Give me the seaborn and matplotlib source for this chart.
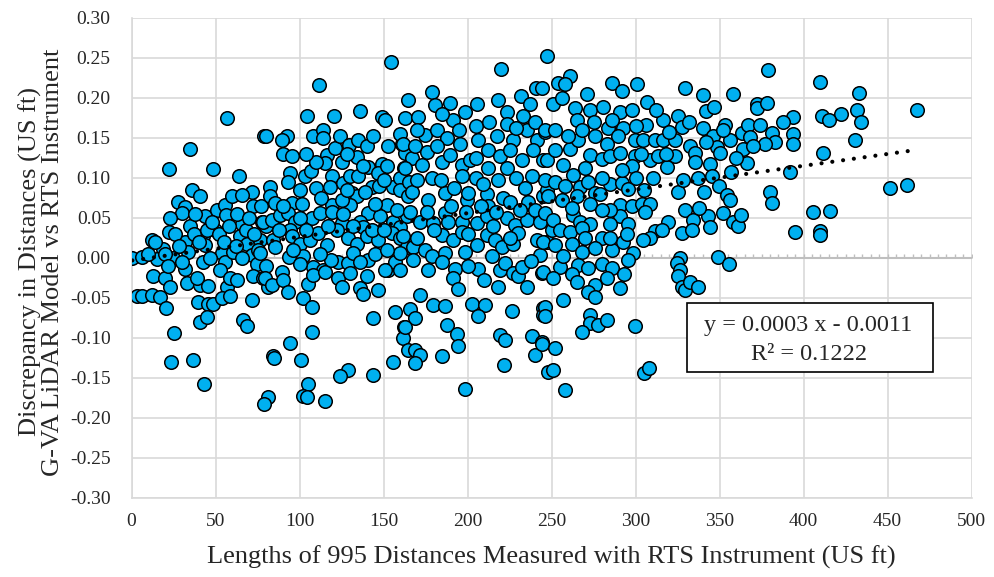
import numpy as np
import pandas as pd
import matplotlib
matplotlib.use("Agg")
import matplotlib.pyplot as plt
import seaborn as sns
from matplotlib.ticker import FormatStrFormatter
from matplotlib.patches import Rectangle

# (length in US ft, discrepancy in US ft), grouped by length band
pts_0_80 = [
    (0.5, 0.000), (57.0, 0.175), (78.9, 0.152), (34.8, 0.136), (22.3, 0.111), (48.3, 0.111),
    (64.0, 0.102), (71.5, 0.083), (35.8, 0.085), (40.8, 0.078), (27.9, 0.070), (31.8, 0.064),
    (29.9, 0.056), (22.9, 0.050), (43.7, 0.052), (50.7, 0.060), (55.7, 0.066), (59.6, 0.077),
    (65.6, 0.079), (72.1, 0.065), (56.2, 0.054), (65.6, 0.043), (77.5, 0.045), (22.5, 0.032),
    (12.0, 0.023), (18.5, 0.011), (6.0, 0.001), (15.4, -0.001), (24.9, 0.000), (31.8, 0.020),
    (33.8, 0.008), (42.8, 0.027), (43.7, 0.016), (42.8, -0.005), (49.7, 0.035), (53.7, 0.006),
    (55.7, -0.005), (60.6, 0.008), (64.6, 0.027), (68.5, 0.018), (71.5, 0.004), (74.5, -0.007),
    (76.5, 0.023), (31.8, -0.014), (13.0, -0.023), (19.9, -0.025), (22.9, -0.036), (32.8, -0.031),
    (40.8, -0.034), (38.8, -0.025), (45.7, -0.035), (52.7, -0.015), (56.6, -0.036), (58.6, -0.025),
    (62.6, -0.028), (72.5, -0.023), (71.5, -0.053), (78.5, -0.025), (81.4, -0.036), (3.1, -0.048),
    (6.0, -0.048), (12.0, -0.046), (17.0, -0.049), (20.5, -0.063), (39.8, -0.055), (45.7, -0.057),
    (48.7, -0.058), (53.7, -0.050), (58.6, -0.048), (40.8, -0.080), (45.1, -0.074), (66.6, -0.078),
    (68.5, -0.085), (25.3, -0.094), (23.5, -0.130), (36.8, -0.128), (43.1, -0.158), (81.0, -0.174),
    (79.0, -0.182), (84.5, -0.123),
    (10.0, 0.005), (14.0, 0.020), (20.0, 0.005), (22.0, -0.010), (26.0, 0.030), (28.0, 0.015),
    (30.0, -0.005), (35.0, 0.040), (37.0, 0.030), (38.0, 0.055), (40.0, 0.020), (45.0, 0.035),
    (47.0, 0.000), (48.0, 0.045), (52.0, 0.030), (55.0, 0.020), (58.0, 0.040), (62.0, 0.015),
    (63.0, 0.055), (66.0, 0.000), (68.0, 0.035), (70.0, 0.050), (73.0, 0.030), (75.0, 0.010),
    (77.0, 0.065), (80.0, 0.040), (80.0, -0.010),
]

pts_80_160 = [
    (154.3, 0.245), (111.8, 0.216), (104.3, 0.178), (120.5, 0.177), (136.0, 0.184), (148.9, 0.176),
    (150.9, 0.172), (164.8, 0.197), (162.8, 0.175), (80.1, 0.152), (92.4, 0.152), (89.4, 0.147),
    (90.0, 0.130), (95.3, 0.127), (108.2, 0.152), (114.2, 0.160), (114.2, 0.150), (116.2, 0.129),
    (115.2, 0.119), (121.1, 0.138), (124.1, 0.152), (125.1, 0.120), (129.7, 0.141), (135.0, 0.147),
    (140.0, 0.140), (144.0, 0.152), (134.0, 0.126), (141.0, 0.114), (148.9, 0.118), (152.9, 0.140),
    (160.8, 0.143), (162.8, 0.131), (162.2, 0.112), (94.4, 0.106), (93.4, 0.095), (103.3, 0.102),
    (106.7, 0.109), (119.2, 0.102), (118.2, 0.089), (126.1, 0.094), (130.1, 0.102), (135.0, 0.102),
    (143.0, 0.089), (146.9, 0.106), (147.5, 0.090), (155.9, 0.089), (159.8, 0.100), (82.5, 0.089),
    (82.5, 0.077), (85.4, 0.069), (95.3, 0.069), (101.3, 0.067), (119.2, 0.066), (131.1, 0.081),
    (134.0, 0.077), (139.0, 0.083), (130.1, 0.066), (141.0, 0.056), (151.9, 0.066), (159.8, 0.085),
    (164.8, 0.077), (78.1, 0.045), (83.4, 0.048), (88.4, 0.054), (93.4, 0.056), (97.3, 0.045),
    (107.3, 0.050), (112.2, 0.056), (119.2, 0.058), (125.1, 0.044), (136.0, 0.045), (138.0, 0.039),
    (147.9, 0.052), (155.9, 0.045), (159.8, 0.039), (163.8, 0.052), (84.4, 0.023), (85.4, 0.014),
    (94.4, 0.035), (95.3, 0.027), (100.3, 0.018), (106.3, 0.022), (111.2, 0.031), (116.2, 0.016),
    (122.1, 0.035), (129.1, 0.025), (134.0, 0.018), (140.0, 0.027), (146.9, 0.023), (154.9, 0.031),
    (159.8, 0.025), (163.8, 0.014), (76.5, 0.006), (94.0, 0.001), (102.3, 0.002), (108.2, -0.011),
    (114.2, -0.015), (123.1, -0.005), (129.1, -0.006), (132.1, 0.006), (141.0, -0.002), (152.9, -0.015),
    (156.9, -0.005), (159.8, 0.006), (79.5, -0.025), (83.4, -0.034), (89.4, -0.017), (90.4, -0.028),
    (93.4, -0.043), (105.3, -0.032), (108.2, -0.021), (115.2, -0.017), (123.1, -0.025), (125.1, -0.036),
    (130.1, -0.019), (136.0, -0.038), (138.0, -0.045), (140.0, -0.023), (146.9, -0.040), (150.9, -0.015),
    (102.3, -0.050), (107.3, -0.061), (143.9, -0.075), (156.9, -0.067), (162.2, -0.086), (161.8, -0.100),
    (107.3, -0.092), (94.4, -0.106), (84.8, -0.125), (100.7, -0.128), (155.9, -0.130), (164.8, -0.115),
    (129.1, -0.140), (124.1, -0.148), (143.9, -0.146), (105.3, -0.157), (101.9, -0.172), (104.3, -0.174),
    (115.2, -0.179),
    (100.0, 0.085), (110.0, 0.088), (113.0, 0.075), (125.0, 0.072), (128.0, 0.085), (145.0, 0.068),
    (150.0, 0.098), (152.0, 0.115), (138.0, 0.115), (128.0, 0.130), (110.0, 0.120), (104.0, 0.130),
    (100.0, 0.050), (104.0, 0.035), (117.0, 0.040), (126.0, 0.055), (132.0, 0.040), (143.0, 0.035),
    (150.0, 0.035), (145.0, 0.005), (136.0, -0.005), (119.0, -0.003), (100.0, -0.008), (96.0, 0.010),
    (88.0, 0.035), (90.0, 0.065), (112.0, 0.005), (152.0, 0.010), (158.0, 0.060), (165.0, 0.095),
    (160.0, 0.155), (167.0, 0.125),
]

pts_160_245 = [
    (247.1, 0.252), (219.7, 0.236), (178.6, 0.207), (180.6, 0.191), (189.6, 0.194), (198.5, 0.183),
    (205.8, 0.193), (218.3, 0.197), (223.3, 0.183), (231.6, 0.203), (237.2, 0.193), (240.8, 0.212),
    (244.1, 0.212), (170.7, 0.176), (174.7, 0.154), (181.6, 0.160), (187.6, 0.150), (191.5, 0.172),
    (195.5, 0.143), (206.4, 0.147), (212.4, 0.135), (217.3, 0.152), (223.3, 0.168), (227.3, 0.147),
    (233.2, 0.177), (235.2, 0.160), (241.2, 0.147), (246.1, 0.158), (161.8, 0.143), (168.7, 0.140),
    (162.8, 0.112), (172.7, 0.116), (178.6, 0.100), (184.6, 0.120), (189.6, 0.129), (196.5, 0.116),
    (196.5, 0.102), (201.5, 0.122), (212.4, 0.112), (219.3, 0.127), (223.3, 0.112), (232.2, 0.122),
    (238.2, 0.102), (245.1, 0.122), (166.7, 0.083), (176.7, 0.072), (186.6, 0.081), (199.5, 0.072),
    (200.5, 0.081), (211.4, 0.080), (212.4, 0.065), (221.3, 0.075), (225.3, 0.070), (236.2, 0.070),
    (245.1, 0.077), (247.1, 0.085), (165.8, 0.058), (171.7, 0.045), (179.6, 0.044), (186.6, 0.056),
    (188.6, 0.045), (196.5, 0.045), (205.4, 0.044), (211.4, 0.052), (223.3, 0.050), (228.3, 0.041),
    (235.2, 0.048), (240.2, 0.060), (243.1, 0.045), (161.8, 0.027), (167.7, 0.014), (174.7, 0.010),
    (184.6, 0.029), (191.5, 0.022), (196.5, 0.032), (205.4, 0.016), (211.4, 0.029), (216.3, 0.022),
    (220.3, 0.014), (227.3, 0.018), (230.2, 0.031), (241.2, 0.022), (247.1, 0.020), (159.8, -0.015),
    (167.7, -0.002), (176.7, -0.015), (178.6, 0.002), (186.6, 0.006), (192.5, -0.014), (191.5, -0.025),
    (198.5, 0.008), (206.4, -0.014), (214.4, 0.002), (219.3, -0.015), (218.3, -0.036), (222.3, -0.006),
    (227.3, -0.019), (230.2, -0.023), (232.2, -0.011), (235.2, -0.036), (244.1, -0.019), (243.1, 0.004),
    (194.5, -0.039), (171.7, -0.046), (179.6, -0.059), (186.6, -0.060), (202.5, -0.058), (210.4, -0.059),
    (206.4, -0.073), (226.3, -0.066), (245.1, -0.063), (245.1, -0.071), (165.8, -0.064), (168.7, -0.075),
    (162.8, -0.086), (187.6, -0.084), (193.5, -0.095), (194.5, -0.110), (184.6, -0.123), (168.7, -0.115),
    (171.7, -0.121), (168.7, -0.131), (219.3, -0.096), (222.3, -0.102), (238.2, -0.098), (244.1, -0.105),
    (240.2, -0.121), (221.7, -0.134), (198.5, -0.164), (248.1, -0.142),
    (170.0, 0.098), (184.0, 0.098), (192.0, 0.088), (205.0, 0.100), (209.0, 0.092), (218.0, 0.098),
    (229.0, 0.100), (234.0, 0.088), (176.0, 0.132), (182.0, 0.140), (195.0, 0.160), (205.0, 0.165),
    (213.0, 0.170), (229.0, 0.162), (240.0, 0.170), (180.0, 0.035), (200.0, 0.030), (215.0, 0.040),
    (231.0, 0.060), (176.0, 0.058), (199.0, 0.058), (208.0, 0.065), (185.0, -0.005), (200.0, -0.010),
    (210.0, -0.028), (238.0, -0.004), (225.0, 0.025), (250.0, 0.035), (170.0, 0.025), (190.0, 0.065),
    (217.0, 0.058), (239.0, 0.135), (225.0, 0.135), (205.0, 0.125), (170.0, 0.160), (185.0, 0.180),
]

pts_245_330 = [
    (254.1, 0.219), (261.1, 0.227), (258.1, 0.218), (285.9, 0.219), (291.8, 0.209), (300.7, 0.218),
    (271.0, 0.205), (306.7, 0.195), (329.5, 0.213), (251.1, 0.193), (264.0, 0.187), (265.0, 0.172),
    (273.0, 0.185), (280.9, 0.189), (290.8, 0.183), (297.8, 0.185), (275.0, 0.170), (283.9, 0.163),
    (292.8, 0.162), (306.3, 0.166), (316.6, 0.172), (325.5, 0.177), (327.5, 0.164), (246.2, 0.160),
    (252.1, 0.160), (275.9, 0.152), (289.8, 0.152), (299.7, 0.147), (304.7, 0.147), (311.7, 0.147),
    (316.6, 0.147), (323.6, 0.148), (261.1, 0.136), (266.0, 0.147), (282.9, 0.143), (273.0, 0.129),
    (279.9, 0.124), (284.9, 0.127), (290.8, 0.131), (299.7, 0.127), (308.7, 0.122), (313.6, 0.127),
    (318.6, 0.114), (323.6, 0.127), (297.8, 0.115), (247.2, 0.122), (252.1, 0.135), (257.1, 0.116),
    (246.2, 0.097), (252.1, 0.095), (263.0, 0.104), (267.0, 0.089), (272.0, 0.095), (275.9, 0.081),
    (284.9, 0.093), (291.8, 0.094), (295.8, 0.086), (310.7, 0.100), (325.5, 0.083), (328.5, 0.097),
    (248.2, 0.077), (256.1, 0.072), (265.0, 0.077), (273.0, 0.068), (290.8, 0.066), (297.8, 0.065),
    (303.7, 0.068), (308.7, 0.068), (305.7, 0.058), (290.8, 0.052), (329.5, 0.060), (246.2, 0.056),
    (251.1, 0.047), (263.0, 0.054), (267.0, 0.045), (273.0, 0.043), (284.9, 0.043), (295.8, 0.042),
    (319.6, 0.045), (311.7, 0.034), (315.6, 0.035), (308.7, 0.025), (304.7, 0.022), (327.5, 0.031),
    (255.1, 0.035), (261.1, 0.033), (268.0, 0.037), (279.9, 0.025), (245.2, 0.020), (252.1, 0.016),
    (262.0, 0.018), (268.0, 0.008), (275.9, 0.012), (285.9, 0.010), (292.8, 0.020), (298.8, 0.006),
    (295.8, -0.002), (255.1, -0.011), (266.0, -0.009), (272.0, -0.013), (279.9, -0.007), (285.9, -0.013),
    (245.2, -0.017), (251.1, -0.025), (326.5, 0.000), (324.5, -0.006), (326.5, -0.015), (325.5, -0.023),
    (327.5, -0.036), (329.5, -0.040), (275.9, -0.034), (272.0, -0.043), (275.9, -0.049), (290.8, -0.037),
    (257.1, -0.052), (246.2, -0.061), (246.2, -0.072), (273.0, -0.071), (273.0, -0.081), (277.9, -0.084),
    (282.9, -0.077), (268.0, -0.092), (299.7, -0.085), (244.2, -0.107), (252.1, -0.112), (251.0, -0.140),
    (258.1, -0.165), (305.1, -0.144), (308.3, -0.138),
    (258.0, 0.090), (279.0, 0.080), (285.0, 0.060), (262.0, 0.062), (270.0, 0.112), (280.0, 0.100),
    (300.0, 0.100), (305.0, 0.085), (260.0, 0.152), (286.0, 0.172), (300.0, 0.165), (312.0, 0.185),
    (320.0, 0.158), (257.0, 0.002), (262.0, -0.020), (280.0, 0.060), (292.0, 0.110), (270.0, 0.025),
    (285.0, 0.025), (295.0, 0.030), (318.0, 0.130), (256.0, 0.200), (268.0, 0.160), (303.0, 0.130),
    (283.0, -0.025), (265.0, -0.030), (293.0, -0.020),
]

pts_330_470 = [
    (379.1, 0.235), (409.8, 0.220), (340.4, 0.204), (358.2, 0.205), (342.0, 0.184), (346.7, 0.189),
    (372.1, 0.193), (372.1, 0.187), (378.5, 0.194), (394.0, 0.176), (410.8, 0.177), (340.4, 0.162),
    (346.3, 0.152), (353.3, 0.166), (356.3, 0.148), (363.2, 0.156), (367.2, 0.166), (368.2, 0.151),
    (374.1, 0.166), (381.1, 0.156), (383.0, 0.145), (377.1, 0.142), (394.0, 0.155), (394.0, 0.142),
    (332.5, 0.140), (335.4, 0.131), (348.3, 0.139), (350.3, 0.131), (364.2, 0.136), (366.2, 0.119),
    (335.4, 0.120), (344.4, 0.117), (411.8, 0.131), (392.0, 0.107), (345.4, 0.102), (349.9, 0.090),
    (354.3, 0.079), (356.3, 0.073), (380.1, 0.083), (381.1, 0.069), (334.4, 0.047), (333.4, 0.035),
    (343.4, 0.052), (344.4, 0.039), (352.3, 0.056), (358.2, 0.045), (361.2, 0.040), (362.6, 0.054),
    (394.9, 0.032), (405.5, 0.057), (409.8, 0.034), (409.8, 0.029), (415.8, 0.059), (349.3, 0.001),
    (355.9, -0.007), (332.5, -0.030), (337.4, -0.036),
    (337.0, 0.100), (341.0, 0.083), (338.0, 0.062), (357.0, 0.108), (360.0, 0.125), (370.0, 0.140),
    (388.0, 0.170), (342.0, 0.145), (352.0, 0.160), (332.0, 0.170),
    (433.2, 0.206), (467.3, 0.185), (431.6, 0.185), (422.1, 0.180), (415.4, 0.173), (434.0, 0.170),
    (430.6, 0.148), (451.5, 0.087), (461.8, 0.091),
]

all_pts = pts_0_80 + pts_80_160 + pts_160_245 + pts_245_330 + pts_330_470
df = pd.DataFrame(all_pts, columns=["Length", "Discrepancy"])

sns.set_style("white")
plt.rcParams["font.family"] = ["Liberation Serif", "DejaVu Serif"]
plt.rcParams["axes.unicode_minus"] = False

fig = plt.figure(figsize=(9.94, 5.77), dpi=100)
ax = fig.add_axes([131.5 / 994, 1 - 498 / 577, 840 / 994, 480 / 577])
ax.set_axisbelow(True)
ax.grid(True, color="#D9D9D9", linewidth=1.2)

# zero line with its little tick marks
ax.axhline(0, color="#BFBFBF", linewidth=1.5, zorder=1)
minor_x = np.arange(0, 501, 5)
ax.plot(minor_x, np.zeros_like(minor_x), linestyle="", marker=2, markersize=3,
        markeredgewidth=1.0, color="#BFBFBF", zorder=1)

sns.scatterplot(data=df, x="Length", y="Discrepancy", color="#00B0F0", edgecolor="black",
                s=95, linewidth=1.1, ax=ax, zorder=3)
sns.regplot(data=df, x="Length", y="Discrepancy", scatter=False, ci=None, color="black",
            line_kws=dict(linewidth=3, linestyle=(0, (0.01, 2.6)), dash_capstyle="round", zorder=4),
            ax=ax)

ax.set_xlim(0, 500)
ax.set_ylim(-0.3, 0.3)
ax.set_xticks(np.arange(0, 501, 50))
ax.set_yticks(np.linspace(-0.3, 0.3, 13))
ax.yaxis.set_major_formatter(FormatStrFormatter("%.2f"))
ax.tick_params(axis="both", length=0, labelsize=14)
ax.tick_params(axis="y", pad=15)
ax.tick_params(axis="x", pad=11)
ax.set_xlabel("")
ax.set_ylabel("")
for side in ["top", "right"]:
    ax.spines[side].set_visible(False)
for side in ["left", "bottom"]:
    ax.spines[side].set_color("#D9D9D9")
    ax.spines[side].set_linewidth(1.2)

fig.text(551 / 994, 1 - 557 / 577, "Lengths of 995 Distances Measured with RTS Instrument (US ft)",
         ha="center", va="center", fontsize=19)
fig.text(41 / 994, 1 - 262 / 577,
         "Discrepancy in Distances (US ft)\nG-VA LiDAR Model vs RTS Instrument",
         ha="center", va="center", rotation=90, fontsize=19, linespacing=1.0,
         multialignment="center")

# equation box
fig.patches.append(Rectangle((686.5 / 994, 1 - 372 / 577), 246 / 994, 69 / 577,
                             transform=fig.transFigure, facecolor="white", edgecolor="black",
                             linewidth=1.2, zorder=5))
fig.text(808 / 994, 1 - 325 / 577, "y = 0.0003 x - 0.0011", ha="center", va="center",
         fontsize=17.5, zorder=6)
fig.text(809 / 994, 1 - 355 / 577, "R² = 0.1222", ha="center", va="center",
         fontsize=17.5, zorder=6)

fig.savefig("out.png", dpi=100)
